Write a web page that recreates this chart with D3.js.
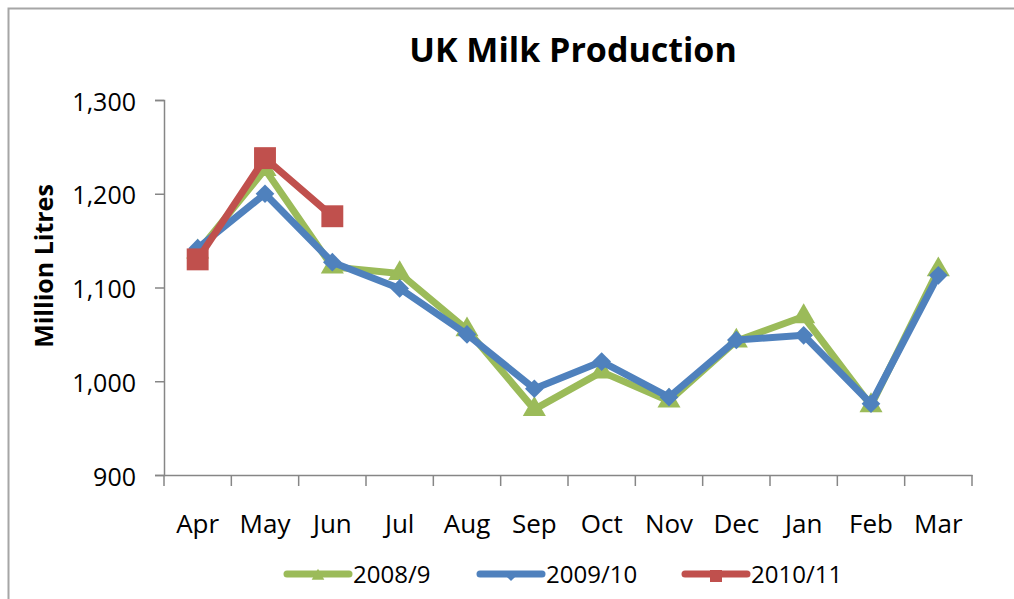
<!DOCTYPE html>
<html>
<head>
<meta charset="utf-8">
<script src="https://cdn.jsdelivr.net/npm/d3@7"></script>
<style>
  body { margin: 0; background: #fff; }
  text { font-family: "Open Sans", sans-serif; }
</style>
</head>
<body>
<script>
const months = ["Apr", "May", "Jun", "Jul", "Aug", "Sep", "Oct", "Nov", "Dec", "Jan", "Feb", "Mar"]
const yTicks = [900, 1000, 1100, 1200, 1300]

const milk0809 = [1138, 1226, 1122, 1115, 1055, 970, 1010, 979, 1043, 1069, 974, 1119]
const milk0910 = [1142, 1200, 1127, 1099, 1050, 992, 1021, 983, 1044, 1049, 976, 1113]
const milk1011 = [1130, 1238, 1176]

const seriesNames = ["2008/9", "2009/10", "2010/11"]

const svgWidth = 1014
const svgHeight = 599

const margin = { top: 100, right: 42, bottom: 124, left: 164 }

const svg = d3.select("body").append("svg")
  .attr("width", svgWidth)
  .attr("height", svgHeight)

// chart border
svg.append("rect")
  .attr("x", 8.5).attr("y", 8.5)
  .attr("width", svgWidth + 20).attr("height", svgHeight + 20)
  .attr("fill", "none")
  .attr("stroke", "#a6a6a6")
  .attr("stroke-width", 2)

const x = d3.scaleBand()
  .domain(months)
  .range([margin.left, svgWidth - margin.right])

const y = d3.scaleLinear()
  .domain([900, 1300])
  .range([svgHeight - margin.bottom, margin.top])

const axisColor = "#868686"

// y axis
const yAxisG = svg.append("g")
  .attr("transform", `translate(${margin.left}, 0)`)
  .call(d3.axisLeft(y).tickValues(yTicks).tickSize(9).tickPadding(19).tickFormat(d3.format(",")))
yAxisG.select(".domain").attr("stroke", axisColor).attr("stroke-width", 1.5)
yAxisG.selectAll(".tick line").attr("stroke", axisColor).attr("stroke-width", 1.5)
yAxisG.selectAll("text")
  .attr("font-size", 25)
  .attr("fill", "#000")
  .attr("dy", "0.4em")

// x axis
const xAxisG = svg.append("g")
  .attr("transform", `translate(0, ${y(900)})`)
  .call(d3.axisBottom(x).tickSize(0).tickPadding(0).tickSizeOuter(0))
xAxisG.select(".domain").attr("stroke", axisColor).attr("stroke-width", 1.5)
xAxisG.selectAll("text")
  .attr("font-size", 26)
  .attr("fill", "#000")
  .attr("y", 58)
  .attr("dy", 0)

const boundaries = months.map(m => x(m)).concat([x.range()[1]])
xAxisG.selectAll(".bound")
  .data(boundaries)
  .enter()
  .append("line")
  .attr("class", "bound")
  .attr("x1", d => d).attr("x2", d => d)
  .attr("y1", 0).attr("y2", 11)
  .attr("stroke", axisColor)
  .attr("stroke-width", 1.5)

// title and axis label
svg.append("text")
  .attr("x", 573).attr("y", 62)
  .attr("text-anchor", "middle")
  .attr("font-size", 34)
  .attr("font-weight", "bold")
  .text("UK Milk Production")

svg.append("text")
  .attr("transform", `translate(53, 266) rotate(-90)`)
  .attr("text-anchor", "middle")
  .attr("font-size", 25)
  .attr("font-weight", "bold")
  .text("Million Litres")

const cx = m => x(m) + x.bandwidth() / 2

const line = d3.line()
  .x((d, i) => cx(months[i]))
  .y(d => y(d))

// diamonds are squares turned 45 degrees
const series = [
  { name: seriesNames[0], values: milk0809, color: "#9bbb59", shape: d3.symbolTriangle, size: 230, rot: 0 },
  { name: seriesNames[1], values: milk0910, color: "#4f81bd", shape: d3.symbolSquare, size: 175, rot: 45 },
  { name: seriesNames[2], values: milk1011, color: "#c0504d", shape: d3.symbolSquare, size: 480, rot: 0 }
]

series.forEach(s => {
  svg.append("path")
    .datum(s.values)
    .attr("d", line)
    .attr("fill", "none")
    .attr("stroke", s.color)
    .attr("stroke-width", 7)
    .attr("stroke-linejoin", "round")
    .attr("stroke-linecap", "round")

  svg.selectAll(null)
    .data(s.values)
    .enter()
    .append("path")
    .attr("d", d3.symbol().type(s.shape).size(s.size))
    .attr("transform", (d, i) => `translate(${cx(months[i])}, ${y(d)}) rotate(${s.rot})`)
    .attr("fill", s.color)
})

// legend
const legendX = [287, 480, 685]
const legend = svg.selectAll(".legend")
  .data(series)
  .enter()
  .append("g")
  .attr("class", "legend")
  .attr("transform", (d, i) => `translate(${legendX[i]}, 574)`)

legend.append("line")
  .attr("x1", 0).attr("x2", 62)
  .attr("stroke", d => d.color)
  .attr("stroke-width", 7)
  .attr("stroke-linecap", "round")

legend.append("path")
  .attr("d", d => d3.symbol().type(d.shape).size(d.size * 0.3)())
  .attr("transform", d => `translate(31, 2) rotate(${d.rot})`)
  .attr("fill", d => d.color)

legend.append("text")
  .attr("x", 66).attr("y", 9)
  .attr("font-size", 24)
  .text(d => d.name)
</script>
</body>
</html>
